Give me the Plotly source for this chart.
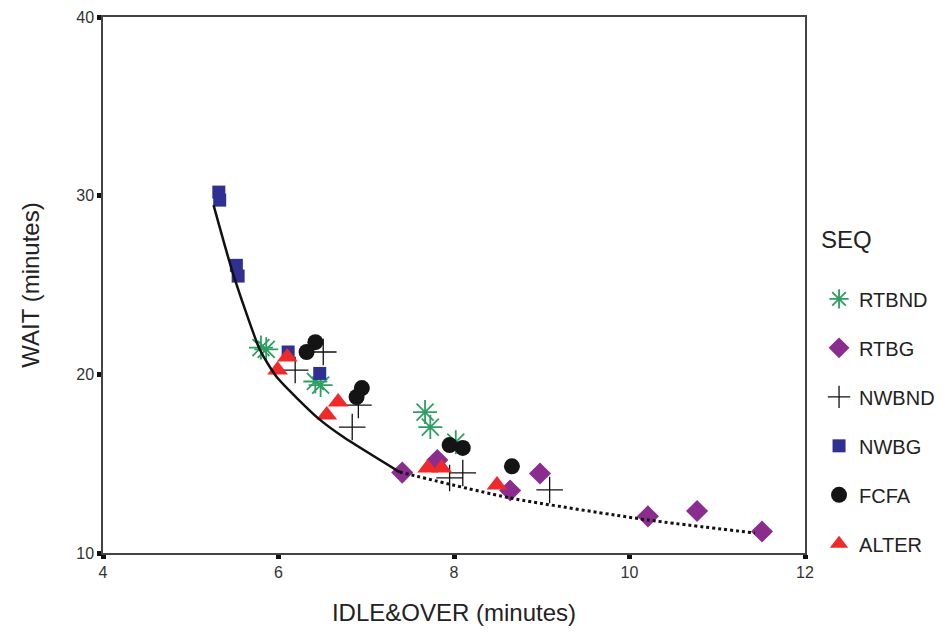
import plotly.graph_objects as go

# ---- data ----
rtbnd_x = [5.80, 5.86, 6.42, 6.48, 7.67, 7.73, 8.02]
rtbnd_y = [21.5, 21.4, 19.6, 19.4, 17.89, 17.05, 16.2]

rtbg_x = [7.41, 7.81, 8.64, 8.98, 10.21, 10.77, 11.51]
rtbg_y = [14.5, 15.2, 13.5, 14.45, 12.05, 12.35, 11.2]

nwbnd_x = [6.51, 6.19, 6.91, 6.84, 8.10, 7.95, 9.09]
nwbnd_y = [21.25, 20.24, 18.28, 17.05, 14.48, 14.2, 13.53]

nwbg_x = [5.32, 5.33, 5.52, 5.54, 6.11, 6.47]
nwbg_y = [30.2, 29.75, 26.1, 25.5, 21.25, 20.05]

fcfa_x = [6.42, 6.32, 6.95, 6.89, 7.95, 8.10, 8.66]
fcfa_y = [21.8, 21.25, 19.23, 18.73, 16.04, 15.88, 14.85]

alter_x = [6.10, 5.99, 6.68, 6.55, 7.70, 7.86, 8.49]
alter_y = [20.97, 20.24, 18.45, 17.72, 14.76, 14.76, 13.8]

front_solid_x = [5.26, 5.48, 5.79, 5.98, 6.45, 6.74, 7.38]
front_solid_y = [29.47, 25.67, 21.36, 19.85, 17.55, 16.49, 14.53]

front_dot_x = [7.38, 8.64, 10.21, 11.43]
front_dot_y = [14.53, 13.08, 11.85, 11.12]

x_ticks = [4, 6, 8, 10, 12]
y_ticks = [10, 20, 30, 40]

FONT = "Liberation Sans, Arial, sans-serif"

fig = go.Figure()

series = [
    ("RTBND", rtbnd_x, rtbnd_y, dict(symbol="asterisk-open", size=20, color="#2e9e62",
                                     line=dict(color="#2e9e62", width=1.8))),
    ("RTBG", rtbg_x, rtbg_y, dict(symbol="diamond", size=17, color="#8a2d8e",
                                  line=dict(width=0))),
    ("NWBND", nwbnd_x, nwbnd_y, dict(symbol="cross-thin-open", size=19, color="#111111",
                                     line=dict(color="#111111", width=1.3))),
    ("NWBG", nwbg_x, nwbg_y, dict(symbol="square", size=13, color="#2e3192",
                                  line=dict(width=0))),
    ("FCFA", fcfa_x, fcfa_y, dict(symbol="circle", size=16, color="#141414",
                                  line=dict(width=0))),
    ("ALTER", alter_x, alter_y, dict(symbol="triangle-up", size=18, color="#ee2a2a",
                                     line=dict(width=0))),
]

for name, xs, ys, mk in series:
    fig.add_trace(go.Scatter(x=xs, y=ys, mode="markers", name=name, marker=mk,
                             legendgroup=name))

fig.add_trace(go.Scatter(x=front_solid_x, y=front_solid_y, mode="lines",
                         line=dict(color="#111111", width=2.5, shape="spline", smoothing=0.6),
                         showlegend=False, hoverinfo="skip"))
fig.add_trace(go.Scatter(x=front_dot_x, y=front_dot_y, mode="lines",
                         line=dict(color="#111111", width=3, dash="dot", shape="spline", smoothing=0.6),
                         showlegend=False, hoverinfo="skip"))

axis_common = dict(
    showgrid=False, zeroline=False, showline=True, linecolor="#444444", linewidth=1.5,
    mirror=True, ticks="outside", ticklen=4, tickwidth=5, tickcolor="#111111",
    tickfont=dict(family=FONT, size=16, color="#333333"),
)

fig.update_layout(
    width=948, height=635,
    margin=dict(l=103, r=143, t=17, b=82, autoexpand=False),
    paper_bgcolor="white", plot_bgcolor="white",
    font=dict(family=FONT, color="#222222"),
    xaxis=dict(range=[4, 12], tickvals=x_ticks, ticktext=[str(v) for v in x_ticks],
               title=dict(text="IDLE&OVER (minutes)", font=dict(family=FONT, size=24, color="#222222"),
                          standoff=24),
               **axis_common),
    yaxis=dict(range=[10, 40], tickvals=y_ticks, ticktext=[str(v) for v in y_ticks],
               title=dict(text="WAIT (minutes)", font=dict(family=FONT, size=24, color="#222222"),
                          standoff=30),
               **axis_common),
    legend=dict(
        title=dict(text="SEQ<br> ", font=dict(family=FONT, size=24, color="#222222")),
        font=dict(family=FONT, size=20, color="#222222"),
        x=1.02, xanchor="left", y=0.627, yanchor="top",
        tracegroupgap=20, bgcolor="rgba(0,0,0,0)",
    ),
)

fig.write_html("out.html")
